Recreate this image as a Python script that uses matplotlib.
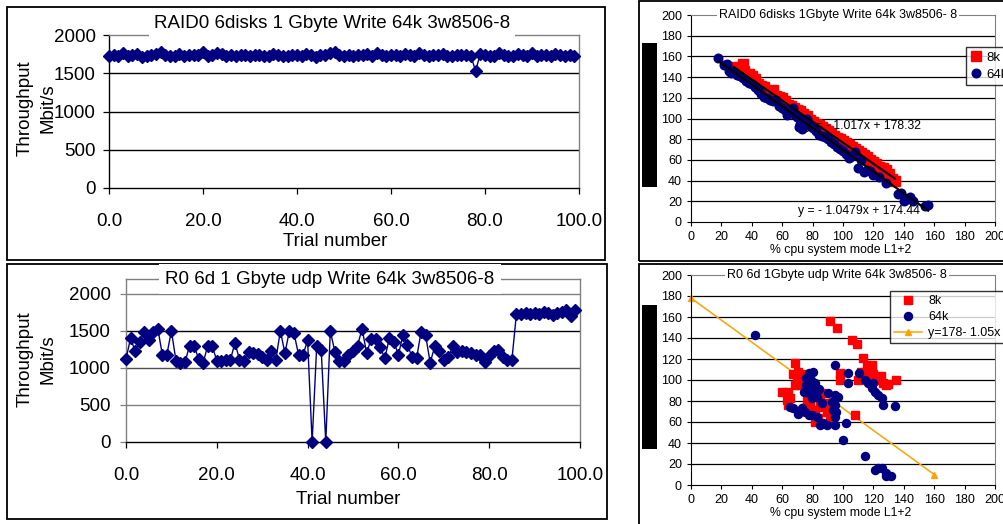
import matplotlib
matplotlib.use("Agg")
import matplotlib.pyplot as plt
from matplotlib.patches import Rectangle

plt.rcParams['font.family'] = ['Liberation Sans', 'DejaVu Sans']

W, H = 1004, 524

# ---------------- data ----------------
trials = list(range(100))

tcp_throughput = [
    1720, 1745, 1730, 1760, 1720, 1740, 1755, 1715, 1720, 1740,
    1750, 1780, 1745, 1720, 1730, 1755, 1725, 1740, 1735, 1740,
    1775, 1720, 1740, 1770, 1750, 1730, 1745, 1720, 1735, 1740,
    1725, 1735, 1745, 1720, 1730, 1755, 1740, 1730, 1720, 1745,
    1735, 1720, 1750, 1740, 1715, 1735, 1745, 1760, 1775, 1740,
    1730, 1745, 1720, 1735, 1740, 1755, 1730, 1760, 1745, 1720,
    1740, 1735, 1720, 1750, 1740, 1730, 1760, 1745, 1720, 1735,
    1745, 1755, 1730, 1720, 1745, 1735, 1740, 1725, 1530, 1755,
    1745, 1730, 1720, 1760, 1745, 1730, 1720, 1755, 1740, 1730,
    1760, 1720, 1745, 1735, 1720, 1750, 1745, 1730, 1740, 1720]

udp_throughput = [
    1120, 1400, 1230, 1350, 1480, 1380, 1490, 1530, 1180, 1180,
    1500, 1100, 1070, 1080, 1300, 1300, 1120, 1070, 1300, 1290,
    1100, 1100, 1110, 1110, 1340, 1110, 1100, 1220, 1200, 1190,
    1150, 1110, 1230, 1110, 1500, 1200, 1500, 1470, 1180, 1180,
    1370, 0, 1290, 1240, 0, 1500, 1220, 1100, 1100, 1170,
    1230, 1300, 1530, 1200, 1390, 1390, 1280, 1130, 1400, 1350,
    1180, 1440, 1310, 1150, 1130, 1490, 1440, 1070, 1290, 1230,
    1110, 1150, 1290, 1220, 1230, 1220, 1200, 1180, 1170, 1080,
    1160, 1230, 1240, 1150, 1110, 1110, 1730, 1730, 1735, 1725,
    1735, 1730, 1750, 1740, 1710, 1745, 1755, 1775, 1705, 1775]

# TCP scatter: throughput vs % cpu
tcp8_cpu = [28, 30, 32, 34, 35, 38, 40, 42, 44, 46, 48, 50, 52, 54, 56, 58, 60, 62,
            64, 66, 68, 70, 72, 74, 76, 78, 80, 82, 84, 86, 88, 90, 92, 94, 96, 98,
            100, 102, 104, 106, 108, 110, 112, 114, 116, 118, 120, 122, 124, 126,
            128, 130, 132, 134]
tcp8_thr = [150, 148, 149, 153, 146, 143, 141, 138, 133, 131, 130, 127, 125, 128,
            122, 121, 120, 117, 113, 112, 110, 108, 107, 104, 102, 99, 97, 95, 94,
            92, 90, 88, 85, 83, 81, 80, 78, 76, 74, 72, 71, 69, 67, 65, 63, 60, 58,
            56, 53, 52, 50, 46, 42, 40]
tcp64_cpu = [18, 22, 24, 25, 26, 28, 30, 32, 34, 36, 38, 40, 42, 44, 46, 48, 50, 52,
             54, 56, 58, 60, 62, 63, 65, 67, 68, 70, 71, 72, 73, 74, 76, 78, 80, 82,
             84, 86, 88, 90, 92, 94, 96, 98, 100, 102, 104, 106, 108, 110, 112, 114,
             116, 118, 120, 124, 128, 136, 138, 140, 142, 144, 146, 154, 156]
tcp64_thr = [158, 152, 153, 146, 144, 145, 142, 141, 139, 136, 134, 133, 130, 128,
             124, 121, 120, 118, 117, 118, 112, 110, 108, 103, 107, 110, 104, 101,
             92, 95, 90, 99, 100, 93, 91, 88, 84, 83, 82, 80, 77, 75, 72, 71, 69,
             66, 62, 64, 68, 52, 60, 48, 50, 49, 45, 43, 38, 27, 28, 20, 22, 24, 20,
             15, 16]
fit8_slope, fit8_icpt, fit8_range = -1.017, 178.32, (28, 134)
fit64_slope, fit64_icpt, fit64_range = -1.0479, 174.44, (18, 156)

# UDP scatter
udp8_cpu = [91.6, 96, 105.7, 108.9, 113.3, 115.5, 118.8, 116.6, 120, 110, 112,
            125.2, 126.3, 129.6, 135, 128.5, 124, 98, 98, 108,
            68.4, 67.3, 70.6, 72.8, 59.6, 64, 63, 65, 64, 68.4, 71.7, 69.5, 82.7,
            85, 81.6, 87, 90.3, 89.2, 93.6, 81.6, 83.8, 91.5, 75, 78, 76, 79.6, 86]
udp8_thr = [156, 150, 138, 134, 121, 114, 114, 108, 106, 100, 108,
            104, 97, 96, 100, 95, 100, 107, 100, 67,
            116, 106, 108, 106, 89, 89, 81, 82.5, 76, 95.6, 95.6, 100, 87,
            79, 71.5, 74.6, 78, 70, 71.4, 60.4, 63.5, 62, 73, 75, 80, 68, 88]
udp64_cpu = [42, 94.6, 77.6, 75.9, 79, 81.6, 75.4, 78.7, 74.3, 77.5, 80.7, 79.6,
             82.7, 86, 90.3, 94.6, 96.8, 92.5, 94.6, 93.6, 95.7, 94.6, 65, 67.3,
             70.6, 72.8, 75, 77.5, 79.6, 82.7, 85, 87, 89.2, 94.6, 102.3, 100,
             103.4, 103.4, 110.5, 114.4, 116.6, 119.9, 118.8, 121, 123.2, 125.4,
             126.5, 134, 114.4, 121, 123.2, 125.4, 128.6, 128.6, 131.9, 80, 84]
udp64_thr = [143, 114, 107, 101.6, 100, 97, 95.6, 94, 89, 87.3, 87.3, 82.5,
             84, 77.8, 87.3, 85.7, 84, 79.4, 76.2, 71.4, 69.8, 65, 73.9, 73,
             68, 73, 69.8, 66.7, 66.7, 65, 57.1, 58.7, 57.1, 57.1, 58.7, 42.9,
             106.3, 96.8, 106.3, 100, 97, 97, 92, 89, 85.7, 82.5,
             76.2, 75.2, 28, 14.6, 16.2, 16.2, 11.4, 8.3, 8.3, 108, 91]
udp_fit_cpu = [0, 160]
udp_fit_thr = [178, 10]

NAVY = '#000080'
RED = '#FF0000'
ORANGE = '#FFA200'
GRAY = '#808080'

fig = plt.figure(figsize=(W / 100, H / 100), dpi=100)
fig.patch.set_facecolor('white')


def add_ax(x0, y0, x1, y1):
    return fig.add_axes([x0 / W, 1 - y1 / H, (x1 - x0) / W, (y1 - y0) / H])


def ftext(x, y, s, **kw):
    return fig.text(x / W, 1 - y / H, s, **kw)


def frame(x0, y0, x1, y1, **kw):
    r = Rectangle((x0 / W, 1 - y1 / H), (x1 - x0) / W, (y1 - y0) / H,
                  transform=fig.transFigure, **kw)
    fig.add_artist(r)


# ---------------- left line charts ----------------
def line_chart(box, ymax, values, grid_colors, left_color, ypad, title, title_xy,
               title_pad, xlabel_xy, ylab_y):
    ax = add_ax(*box)
    ax.set_xlim(0, 100)
    ax.set_ylim(0, ymax)
    for v, c in grid_colors:
        ax.axhline(v, color=c, lw=1.0, zorder=1)
    ax.plot(trials, values, color=NAVY, lw=1.0, marker='D', ms=6.3,
            mfc=NAVY, mec=NAVY, zorder=3, clip_on=False)
    ax.set_xticks([0, 20, 40, 60, 80, 100])
    ax.set_xticklabels(['%.1f' % t for t in [0, 20, 40, 60, 80, 100]])
    ax.set_yticks([0, 500, 1000, 1500, 2000])
    ax.tick_params(axis='x', direction='out', length=4, width=0.9, pad=14,
                   labelsize=13.5, colors='black')
    ax.tick_params(axis='y', direction='out', length=4, width=0.9, pad=ypad,
                   labelsize=13.5, color=left_color, labelcolor='black')
    ax.spines['left'].set_color(left_color)
    ax.spines['bottom'].set_color('black')
    ax.spines['top'].set_color(GRAY)
    ax.spines['right'].set_color(GRAY)
    for s in ax.spines.values():
        s.set_linewidth(1.0)
    ftext(title_xy[0], title_xy[1], title, ha='center', va='center',
          fontsize=13.5, bbox=dict(facecolor='white', edgecolor='none',
                                   pad=title_pad))
    ftext(xlabel_xy[0], xlabel_xy[1], 'Trial number', ha='center', va='center',
          fontsize=13.5)
    ftext(25, ylab_y, 'Throughput', rotation=90, ha='center', va='center',
          fontsize=13.5)
    ftext(48, ylab_y, 'Mbit/s', rotation=90, ha='center', va='center',
          fontsize=13.5)
    return ax


frame(7, 7, 605, 260, fill=False, ec='black', lw=1.3)
frame(7, 264, 607, 519, fill=False, ec='black', lw=1.3)

line_chart((109, 35, 579, 188), 2000, tcp_throughput,
           [(500, 'black'), (1000, 'black'), (1500, 'black')], 'black', 5.5,
           'RAID0 6disks 1 Gbyte Write 64k 3w8506-8', (332, 24), 3.2, (335, 241), 108)

line_chart((126, 279, 580, 442), 2200, udp_throughput,
           [(500, GRAY), (1000, '#505050'), (1500, 'black'), (2000, GRAY)], GRAY, 7,
           'R0 6d 1 Gbyte udp Write 64k 3w8506-8', (330, 279), 4.5, (348, 499), 359)


# ---------------- right scatter charts ----------------
def scatter_frame(box, title, title_xy, xlabel_y):
    ax = add_ax(*box)
    ax.set_xlim(0, 200)
    ax.set_ylim(0, 200)
    ticks = list(range(0, 201, 20))
    ax.set_xticks(ticks)
    ax.set_yticks(ticks)
    for v in ticks[1:-1]:
        ax.axhline(v, color='black', lw=0.9, zorder=1)
    ax.tick_params(direction='out', length=3, width=0.8, labelsize=9, pad=3.5)
    ax.tick_params(axis='x', pad=3.2)
    ax.spines['left'].set_color('black')
    ax.spines['bottom'].set_color('black')
    ax.spines['top'].set_color(GRAY)
    ax.spines['right'].set_color(GRAY)
    ftext(title_xy[0], title_xy[1], title, ha='center', va='center', fontsize=9,
          bbox=dict(facecolor='white', edgecolor='none', pad=1.5))
    ftext(841, xlabel_y, '% cpu system mode L1+2', ha='center', va='center',
          fontsize=8.8)
    return ax


frame(639, 1, 1010, 261, fill=False, ec='black', lw=1.3)
frame(639, 264, 1010, 530, fill=False, ec='black', lw=1.3)
frame(642, 43, 657, 187, fill=True, fc='black', ec='black', lw=0)
frame(642, 305, 657, 449, fill=True, fc='black', ec='black', lw=0)

# top-right: TCP
ax3 = scatter_frame((691, 15, 995, 222), 'RAID0 6disks 1Gbyte Write 64k 3w8506- 8',
                    (838, 15), 250)
ftext(806, 126, 'y = - 1.017x + 178.32', fontsize=8.8, ha='left', va='center',
      zorder=0.5)
ftext(798, 211, 'y = - 1.0479x + 174.44', fontsize=8.8, ha='left', va='center',
      zorder=0.5)
ax3.plot(tcp8_cpu, tcp8_thr, ls='none', marker='s', ms=6.8, mfc=RED, mec=RED,
         zorder=3, label='8k')
ax3.plot(tcp64_cpu, tcp64_thr, ls='none', marker='o', ms=6.2, mfc=NAVY, mec=NAVY,
         zorder=4, label='64k')
fx8 = list(fit8_range)
ax3.plot(fx8, [fit8_slope * x + fit8_icpt for x in fx8], color='black', lw=1.6,
         zorder=5)
fx64 = list(fit64_range)
ax3.plot(fx64, [fit64_slope * x + fit64_icpt for x in fx64], color='black', lw=1.6,
         zorder=5)
leg3 = ax3.legend(loc='upper left', bbox_to_anchor=(966 / W, 1 - 47 / H),
                  bbox_transform=fig.transFigure, fontsize=9.5, frameon=True,
                  fancybox=False, edgecolor='black', handlelength=0.8,
                  handletextpad=0.4, borderpad=0.35, labelspacing=0.35,
                  borderaxespad=0, numpoints=1)
leg3.get_frame().set_linewidth(1.0)
leg3.set_zorder(10)

# bottom-right: UDP
ax4 = scatter_frame((691, 275, 995, 485), 'R0 6d 1Gbyte udp Write 64k 3w8506- 8',
                    (837, 275), 513)
ax4.plot(udp_fit_cpu, udp_fit_thr, color=ORANGE, lw=1.1, marker='^', ms=5,
         mfc=ORANGE, mec=ORANGE, zorder=2, label='y=178- 1.05x', clip_on=False)
ax4.plot(udp8_cpu, udp8_thr, ls='none', marker='s', ms=5.8, mfc=RED, mec=RED,
         zorder=3, label='8k')
ax4.plot(udp64_cpu, udp64_thr, ls='none', marker='o', ms=5.8, mfc=NAVY, mec=NAVY,
         zorder=4, label='64k')
h, l = ax4.get_legend_handles_labels()
order = [1, 2, 0]
leg4 = ax4.legend([h[i] for i in order], [l[i] for i in order], loc='upper left',
                  bbox_to_anchor=(890 / W, 1 - 291 / H),
                  bbox_transform=fig.transFigure, fontsize=9, frameon=True,
                  fancybox=False, edgecolor='black', handlelength=2.2,
                  handletextpad=0.5, borderpad=0.35, labelspacing=0.3,
                  borderaxespad=0, numpoints=1)
leg4.get_frame().set_linewidth(1.0)
leg4.set_zorder(10)

fig.savefig('out.png', dpi=100, facecolor='white')
